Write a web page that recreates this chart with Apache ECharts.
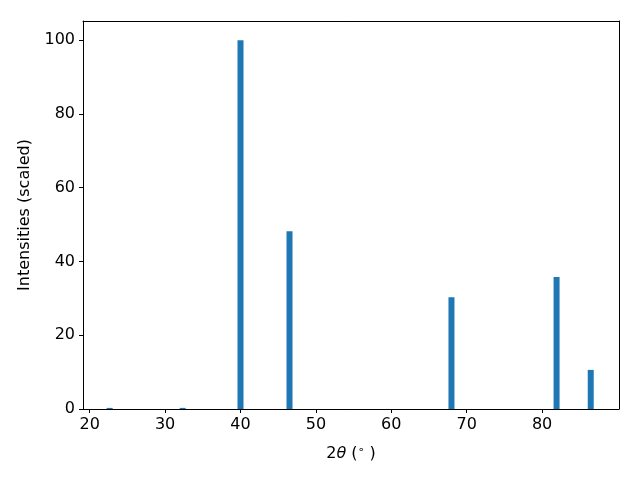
<!DOCTYPE html>
<html>
<head>
<meta charset="utf-8">
<script src="https://cdn.jsdelivr.net/npm/echarts@6/dist/echarts.min.js"></script>
<style>html,body{margin:0;padding:0;background:#fff}#c{width:640px;height:480px}</style>
</head>
<body>
<div id="c"></div>
<script>
// Peak positions (2θ, degrees) and scaled intensities
const peakPositions = [22.65, 32.33, 40.0, 46.5, 67.98, 81.92, 86.45];
const peakIntensities = [0.3, 0.3, 100, 48.2, 30.3, 35.8, 10.6];
const xTicks = [20, 30, 40, 50, 60, 70, 80];
const yTicks = [0, 20, 40, 60, 80, 100];

const FONT = 'DejaVu Sans';
const FS = 16;
const chart = echarts.init(document.getElementById('c'), null, {renderer: 'canvas'});
const barData = peakPositions.map((x, i) => [x, peakIntensities[i]]);

chart.setOption({
  animation: false,
  backgroundColor: '#ffffff',
  grid: {left: 83, right: 21, top: 21, bottom: 71, containLabel: false},
  xAxis: [{
    type: 'value', min: 19.11, max: 90.2, position: 'bottom',
    axisLine: {show: true, onZero: false, lineStyle: {color: '#000', width: 1}},
    axisTick: {show: true, inside: false, length: 4, lineStyle: {color: '#000', width: 1}, customValues: xTicks},
    axisLabel: {show: true, margin: 8, color: '#000', fontFamily: FONT, fontSize: FS, customValues: xTicks},
    splitLine: {show: false},
    name: '{n|2}{i|θ}{n| (}{s|∘}{n| )}',
    nameLocation: 'middle', nameGap: 36,
    nameTextStyle: {
      rich: {
        n: {fontFamily: FONT, fontSize: FS, color: '#000'},
        i: {fontFamily: FONT, fontSize: FS, fontStyle: 'italic', color: '#000'},
        s: {fontFamily: FONT, fontSize: 11, color: '#000', verticalAlign: 'top', padding: [0, 0, 7, 0]}
      }
    }
  }, {
    type: 'value', min: 19.11, max: 90.2, position: 'top',
    axisLine: {show: true, onZero: false, lineStyle: {color: '#000', width: 1}},
    axisTick: {show: false}, axisLabel: {show: false}, splitLine: {show: false}
  }],
  yAxis: [{
    type: 'value', min: 0, max: 105.2, position: 'left',
    axisLine: {show: true, onZero: false, lineStyle: {color: '#000', width: 1}},
    axisTick: {show: true, inside: false, length: 4, lineStyle: {color: '#000', width: 1}, customValues: yTicks},
    axisLabel: {show: true, margin: 8, color: '#000', fontFamily: FONT, fontSize: FS, customValues: yTicks},
    splitLine: {show: false},
    name: 'Intensities (scaled)', nameLocation: 'middle', nameGap: 50, nameRotate: 90,
    nameTextStyle: {fontFamily: FONT, fontSize: FS, color: '#000'}
  }, {
    type: 'value', min: 0, max: 105.2, position: 'right',
    axisLine: {show: true, onZero: false, lineStyle: {color: '#000', width: 1}},
    axisTick: {show: false}, axisLabel: {show: false}, splitLine: {show: false}
  }],
  series: [{
    type: 'bar',
    xAxisIndex: 0, yAxisIndex: 0,
    data: barData,
    barWidth: 6,
    itemStyle: {color: '#1f77b4'}
  }]
});
</script>
</body>
</html>
